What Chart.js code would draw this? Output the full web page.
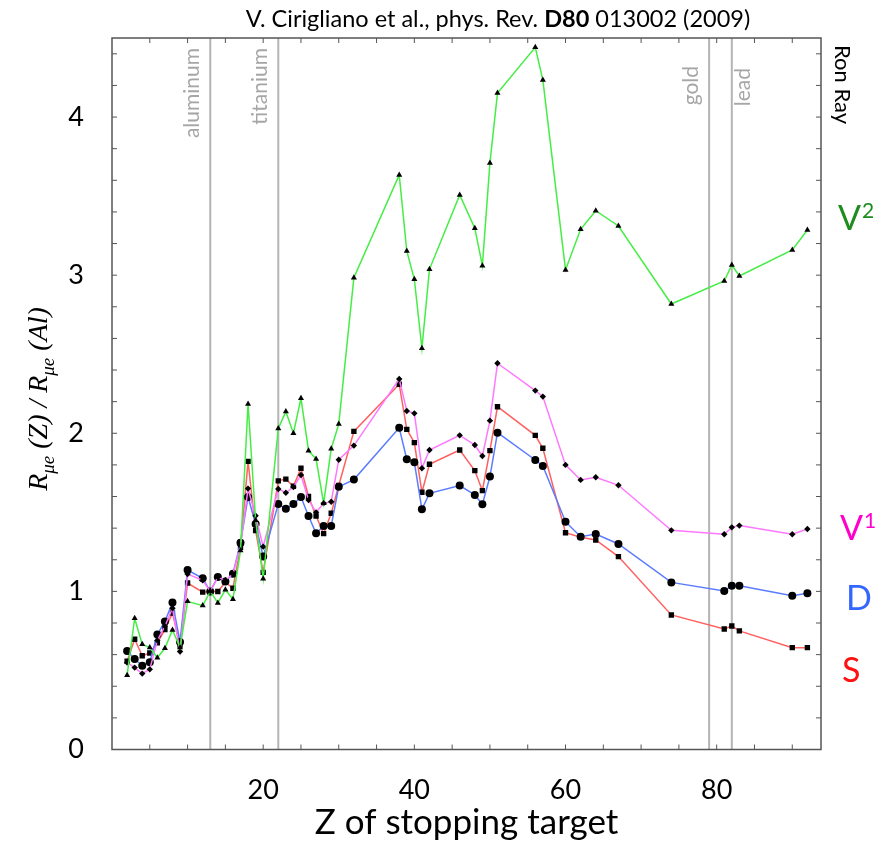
<!DOCTYPE html>
<html>
<head>
<meta charset="utf-8">
<script src="https://cdn.jsdelivr.net/npm/chart.js@4.4.1/dist/chart.umd.min.js"></script>
<style>
  body { margin: 0; background: #fff; }
  canvas { display: block; }
</style>
</head>
<body>
<canvas id="ratioChart" width="879" height="843"></canvas>
<script>
// Z of the stopping target
const zValues = [2, 3, 4, 5, 6, 7, 8, 9, 10, 12, 13, 14, 15, 16, 17, 18, 19, 20,
  22, 23, 24, 25, 26, 27, 28, 29, 30, 32, 38, 39, 40, 41, 42, 46, 48, 49, 50, 51,
  56, 57, 60, 62, 64, 67, 74, 81, 82, 83, 90, 92];

// R(Z)/R(Al) for each operator
const v2Values = [0.47, 0.83, 0.665, 0.645, 0.58, 0.64, 0.756, 0.645, 0.937, 0.91, 1.0, 0.927, 1.01, 0.95, 1.258, 2.185, 1.45, 1.08,
  2.03, 2.137, 2.0, 2.221, 1.89, 1.838, 1.557, 1.902, 2.058, 2.984, 3.634, 3.153, 2.974, 2.537, 3.037, 3.507, 3.297, 3.06, 3.71, 4.152,
  4.441, 4.235, 3.033, 3.29, 3.408, 3.311, 2.818, 2.963, 3.064, 2.995, 3.159, 3.286];
const v1Values = [0.55, 0.518, 0.48, 0.507, 0.69, 0.78, 0.893, 0.62, 1.11, 1.07, 1.0, 1.09, 1.07, 1.11, 1.29, 1.65, 1.478, 1.283,
  1.648, 1.624, 1.66, 1.736, 1.578, 1.50, 1.557, 1.567, 1.833, 1.922, 2.343, 2.141, 2.126, 1.779, 1.894, 1.987, 1.926, 1.856, 2.08, 2.443,
  2.27, 2.232, 1.80, 1.705, 1.722, 1.671, 1.386, 1.361, 1.405, 1.416, 1.361, 1.395];
const dValues = [0.623, 0.572, 0.53, 0.552, 0.727, 0.81, 0.929, 0.68, 1.135, 1.083, 1.0, 1.091, 1.062, 1.112, 1.308, 1.597, 1.426, 1.22,
  1.552, 1.522, 1.552, 1.597, 1.477, 1.367, 1.414, 1.414, 1.662, 1.707, 2.035, 1.835, 1.816, 1.519, 1.62, 1.669, 1.61, 1.551, 1.726, 2.004,
  1.831, 1.793, 1.441, 1.346, 1.363, 1.30, 1.057, 1.003, 1.036, 1.036, 0.973, 0.988];
const sValues = [0.558, 0.697, 0.593, 0.61, 0.674, 0.758, 0.863, 0.66, 1.053, 0.995, 1.0, 0.999, 1.057, 1.02, 1.279, 1.822, 1.385, 1.12,
  1.699, 1.71, 1.665, 1.779, 1.60, 1.477, 1.365, 1.494, 1.67, 2.012, 2.31, 2.025, 1.941, 1.627, 1.804, 1.894, 1.764, 1.637, 1.89, 2.168,
  1.987, 1.905, 1.371, 1.342, 1.325, 1.22, 0.851, 0.762, 0.781, 0.75, 0.644, 0.644];

const xTickLabels = [20, 40, 60, 80];
const yTickLabels = [0, 1, 2, 3, 4];

const elementNames = ['aluminum', 'titanium', 'gold', 'lead'];
const elementZ = [13, 22, 79, 82];

const seriesLetters = ['V', 'V', 'D', 'S'];
const seriesSups = ['2', '1', '', ''];
const seriesTextColors = ['#1e8c1e', '#ff00cc', '#3366ff', '#ff1111'];

function toPoints(values) {
  return zValues.map((z, i) => ({ x: z, y: values[i] }));
}

const decorPlugin = {
  id: 'decor',
  beforeDatasetsDraw(chart) {
    const { ctx, chartArea: a, scales: { x } } = chart;
    ctx.save();
    ctx.strokeStyle = '#b4b4b4';
    ctx.lineWidth = 2;
    elementZ.forEach(z => {
      const px = x.getPixelForValue(z);
      ctx.beginPath();
      ctx.moveTo(px, a.top);
      ctx.lineTo(px, a.bottom);
      ctx.stroke();
    });
    // element names, rotated
    const dx = [-18, -18, -18, 11];
    const topY = [48, 48, 66, 68];
    ctx.fillStyle = '#a6a6a6';
    ctx.font = '21px Lato';
    ctx.textAlign = 'right';
    ctx.textBaseline = 'middle';
    elementNames.forEach((name, i) => {
      ctx.save();
      ctx.translate(x.getPixelForValue(elementZ[i]) + dx[i], topY[i]);
      ctx.rotate(-Math.PI / 2);
      ctx.fillText(name, 0, 0);
      ctx.restore();
    });
    ctx.restore();
  },
  afterDraw(chart) {
    const { ctx, chartArea: a, scales: { x, y } } = chart;
    ctx.save();

    // frame
    ctx.strokeStyle = '#555';
    ctx.lineWidth = 1.5;
    ctx.strokeRect(a.left, a.top, a.right - a.left, a.bottom - a.top);

    // inward ticks
    ctx.lineWidth = 1;
    ctx.beginPath();
    for (let v = 5; v < x.max; v += 5) {
      const px = x.getPixelForValue(v);
      ctx.moveTo(px, a.bottom); ctx.lineTo(px, a.bottom - 5);
      ctx.moveTo(px, a.top); ctx.lineTo(px, a.top + 5);
    }
    for (let k = 1; k * 0.2 < y.max; k++) {
      const py = y.getPixelForValue(k * 0.2);
      ctx.moveTo(a.left, py); ctx.lineTo(a.left + 5, py);
      ctx.moveTo(a.right, py); ctx.lineTo(a.right - 5, py);
    }
    ctx.stroke();

    // title with bold part
    const parts = [
      ['V. Cirigliano et al., phys. Rev. ', '23.5px Lato'],
      ['D80', 'bold 23.5px Lato'],
      [' 013002 (2009)', '23.5px Lato']
    ];
    let total = 0;
    parts.forEach(p => { ctx.font = p[1]; total += ctx.measureText(p[0]).width; });
    let tx = 498 - total / 2;
    ctx.fillStyle = '#000';
    ctx.textAlign = 'left';
    ctx.textBaseline = 'alphabetic';
    parts.forEach(p => {
      ctx.font = p[1];
      ctx.fillText(p[0], tx, 27);
      tx += ctx.measureText(p[0]).width;
    });

    // x axis title
    ctx.font = '35px Lato';
    ctx.textAlign = 'center';
    ctx.fillText('Z of stopping target', (a.left + a.right) / 2, 834);

    // y axis title: R_μe(Z) / R_μe(Al)
    const yParts = [
      ['R', 0, 'italic 28px "Liberation Serif"'],
      ['μe', 7, 'italic 19px "Liberation Serif"'],
      [' (Z) / ', 0, 'italic 28px "Liberation Serif"'],
      ['R', 0, 'italic 28px "Liberation Serif"'],
      ['μe', 7, 'italic 19px "Liberation Serif"'],
      [' (Al)', 0, 'italic 28px "Liberation Serif"']
    ];
    let yw = 0;
    yParts.forEach(p => { ctx.font = p[2]; yw += ctx.measureText(p[0]).width; });
    ctx.save();
    ctx.translate(47, 399);
    ctx.rotate(-Math.PI / 2);
    ctx.textAlign = 'left';
    let lx = -yw / 2;
    yParts.forEach(p => {
      ctx.font = p[2];
      ctx.fillText(p[0], lx, p[1]);
      lx += ctx.measureText(p[0]).width;
    });
    ctx.restore();

    // author note
    ctx.save();
    ctx.translate(842, 45);
    ctx.rotate(Math.PI / 2);
    ctx.font = '22px Lato';
    ctx.textAlign = 'left';
    ctx.textBaseline = 'middle';
    ctx.fillText('Ron Ray', 0, 0);
    ctx.restore();

    // curve names on the right
    const lx0 = [838, 840, 846, 842];
    const base = [230, 540, 610, 682];
    seriesLetters.forEach((letter, i) => {
      ctx.fillStyle = seriesTextColors[i];
      ctx.font = '34px Lato';
      ctx.textAlign = 'left';
      ctx.fillText(letter, lx0[i], base[i]);
      if (seriesSups[i]) {
        const w = ctx.measureText(letter).width;
        ctx.font = '21px Lato';
        ctx.fillText(seriesSups[i], lx0[i] + w + 1, base[i] - 12);
      }
    });

    ctx.restore();
  }
};

const ctx = document.getElementById('ratioChart').getContext('2d');
new Chart(ctx, {
  type: 'line',
  data: {
    datasets: [
      {
        label: 'V2',
        data: toPoints(v2Values),
        borderColor: '#44ee44',
        borderWidth: 1.5,
        pointStyle: 'triangle',
        pointRadius: 3.5,
        pointBackgroundColor: '#000',
        pointBorderWidth: 0
      },
      {
        label: 'V1',
        data: toPoints(v1Values),
        borderColor: '#ff77ff',
        borderWidth: 1.5,
        pointStyle: 'rectRot',
        pointRadius: 3.2,
        pointBackgroundColor: '#000',
        pointBorderWidth: 0
      },
      {
        label: 'D',
        data: toPoints(dValues),
        borderColor: '#5c7cff',
        borderWidth: 1.5,
        pointStyle: 'circle',
        pointRadius: 4,
        pointBackgroundColor: '#000',
        pointBorderWidth: 0
      },
      {
        label: 'S',
        data: toPoints(sValues),
        borderColor: '#ff6060',
        borderWidth: 1.5,
        pointStyle: 'rect',
        pointRadius: 3.8,
        pointBackgroundColor: '#000',
        pointBorderWidth: 0
      }
    ]
  },
  options: {
    responsive: false,
    animation: false,
    devicePixelRatio: 1,
    layout: { padding: { top: 38, right: 58, left: 0, bottom: 0 } },
    plugins: {
      legend: { display: false },
      tooltip: { enabled: false }
    },
    scales: {
      x: {
        type: 'linear',
        min: 0,
        max: 93.8,
        grid: { display: false },
        border: { display: false },
        afterBuildTicks: scale => { scale.ticks = xTickLabels.map(v => ({ value: v })); },
        afterFit: scale => { scale.height = 93.5; },
        ticks: {
          color: '#000',
          padding: 17,
          maxRotation: 0,
          font: { family: 'Lato', size: 27 }
        }
      },
      y: {
        min: 0,
        max: 4.5,
        grid: { display: false },
        border: { display: false },
        afterBuildTicks: scale => { scale.ticks = yTickLabels.map(v => ({ value: v })); },
        afterFit: scale => { scale.width = 112; },
        ticks: {
          color: '#000',
          padding: 20,
          font: { family: 'Lato', size: 27 }
        }
      }
    }
  },
  plugins: [decorPlugin]
});
</script>
</body>
</html>
